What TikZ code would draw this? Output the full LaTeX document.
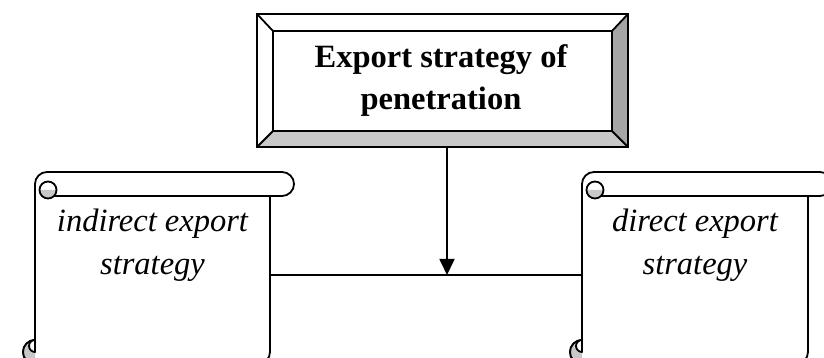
\documentclass[tikz,border=0pt]{standalone}
\usepackage{fontspec}
\setmainfont{Liberation Serif}
\usetikzlibrary{arrows.meta,calc}

\definecolor{shadegray}{RGB}{200,200,200}
\definecolor{darkshade}{RGB}{165,165,165}

% Scroll outline: #1 = left edge of the sheet, #2 = right edge of the sheet
\newcommand{\scrollshape}[2]{%
  % sheet with top roll (round right end) and bottom roll (curl on the left)
  \filldraw[scrollline, fill=white]
    (#1,18) -- (#1,174) arc[start angle=180, end angle=90, radius=12]
    -- ({#2+12},186) arc[start angle=90, end angle=-90, radius=12]
    -- (#2,162) -- (#2,6) arc[start angle=0, end angle=-90, radius=12]
    -- (#1,-6) arc[start angle=270, end angle=90, radius=12] -- cycle;
  % lower edge of the top roll
  \draw[scrollline] (#2,162) -- ({#1+13},162);
  % curl at the top left
  \fill[shadegray] ({#1+4.5},168) arc[start angle=180, end angle=360, radius=8.5] -- cycle;
  \draw[scrollline] ({#1+13},168) circle[radius=8.5];
  % curl at the bottom left
  \fill[shadegray] (#1,-6) arc[start angle=270, end angle=90, radius=12] -- cycle;
  \draw[scrollline] (#1,-6) arc[start angle=270, end angle=90, radius=12];
  \filldraw[scrollline, fill=white] (#1,6) arc[start angle=270, end angle=90, radius=6] -- cycle;
}

\begin{document}
\begin{tikzpicture}[x=1pt, y=1pt,
  scrollline/.style={line width=1.8pt, line join=round},
  bevelline/.style={line width=1.8pt, line join=miter},
  frame/.style={inner sep=0pt, outer sep=0pt, draw=none},
  headtext/.style={anchor=base, font=\fontsize{32.5}{42}\selectfont\bfseries},
  itemtext/.style={anchor=base, font=\fontsize{32.5}{42}\selectfont\itshape},
  link/.style={line width=1.8pt},
  arrowlink/.style={line width=1.8pt, -{Triangle[width=15pt, length=16pt]}}]

\useasboundingbox (0,0) rectangle (824,358);
\clip (0,0) rectangle (824,358);
\fill[white] (0,0) rectangle (824,358);

% ---------- bevelled title box ----------
\node[frame, minimum width=371pt, minimum height=133pt] (head) at (442.5,277.5) {};
\coordinate (isw) at ($(head.south west)+(16,16)$);
\coordinate (ine) at ($(head.north east)+(-16,-17)$);
\coordinate (inw) at (isw |- ine);
\coordinate (ise) at (ine |- isw);
\fill[white] (head.north west) -- (head.north east) -- (ine) -- (inw) -- cycle;
\fill[white] (head.north west) -- (inw) -- (isw) -- (head.south west) -- cycle;
\fill[shadegray] (head.south west) -- (head.south east) -- (ise) -- (isw) -- cycle;
\fill[darkshade] (head.south east) -- (head.north east) -- (ine) -- (ise) -- cycle;
\fill[white] (isw) rectangle (ine);
\draw[bevelline] (head.south west) rectangle (head.north east);
\draw[bevelline] (isw) rectangle (ine);
\draw[bevelline] (head.north west) -- (inw);
\draw[bevelline] (head.north east) -- (ine);
\draw[bevelline] (head.south west) -- (isw);
\draw[bevelline] (head.south east) -- (ise);
\node[headtext] (headA) at (441,290) {Export strategy of};
\node[headtext] (headB) at (441,248) {penetration};

% ---------- scrolls ----------
\scrollshape{35}{270}
\scrollshape{582}{808}
\node[frame, minimum width=235pt, minimum height=144pt] (lbody) at (152.5,90) {};
\node[frame, minimum width=226pt, minimum height=144pt] (rbody) at (695,90) {};
\node[itemtext] (lA) at (152.5,126) {indirect export};
\node[itemtext] (lB) at (152.5,83) {strategy};
\node[itemtext] (rA) at (695,126) {direct export};
\node[itemtext] (rB) at (695,83) {strategy};

% ---------- connectors ----------
\coordinate (junction) at (447,83);
\draw[link] (lbody.east |- junction) -- (rbody.west |- junction);
\draw[arrowlink] (junction |- head.south) -- (junction);

\end{tikzpicture}
\end{document}
